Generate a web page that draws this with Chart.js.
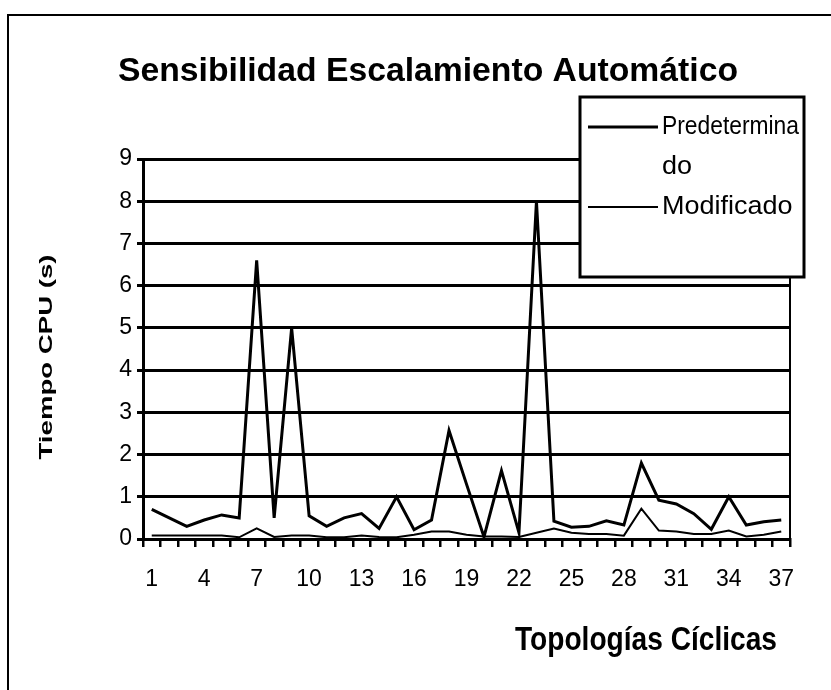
<!DOCTYPE html>
<html lang="es">
<head>
<meta charset="utf-8">
<title>Sensibilidad Escalamiento Automático</title>
<script src="https://cdn.jsdelivr.net/npm/chart.js@4.4.1/dist/chart.umd.min.js"></script>
<style>
  html, body { margin: 0; padding: 0; background: #fff; }
  #grafico { display: block; }
</style>
</head>
<body>
<canvas id="grafico" width="831" height="690"></canvas>
<script>
// --- DATOS ---
const topologias = ["1","2","3","4","5","6","7","8","9","10","11","12","13","14","15","16","17","18","19",
                    "20","21","22","23","24","25","26","27","28","29","30","31","32","33","34","35","36","37"];
const predeterminado = [0.7, 0.5, 0.3, 0.45, 0.57, 0.5, 6.6, 0.5, 5.0, 0.55, 0.3, 0.5, 0.6, 0.25, 1.0, 0.22, 0.45, 2.57, 1.3,
                        0.05, 1.62, 0.15, 8.0, 0.42, 0.28, 0.3, 0.43, 0.33, 1.8, 0.92, 0.83, 0.6, 0.23, 1.0, 0.33, 0.41, 0.45];
const modificado = [0.08, 0.08, 0.08, 0.08, 0.08, 0.04, 0.25, 0.05, 0.08, 0.08, 0.04, 0.04, 0.08, 0.05, 0.04, 0.1, 0.18, 0.18, 0.1,
                    0.06, 0.06, 0.05, 0.15, 0.25, 0.15, 0.12, 0.12, 0.08, 0.72, 0.2, 0.18, 0.12, 0.12, 0.2, 0.06, 0.1, 0.18];
const etiquetasX = ["1","4","7","10","13","16","19","22","25","28","31","34","37"];
const nombresSeries = ["Predeterminado", "Modificado"];

const titulo = "Sensibilidad Escalamiento Automático";
const tituloX = "Topologías Cíclicas";
const tituloY = "Tiempo CPU (s)";

// --- ESTILO ---
const fuente = "'Liberation Sans', Arial, sans-serif";

// texto estirado/comprimido en horizontal hasta el ancho pedido
function textoAjustado(ctx, texto, x, y, ancho, alinear) {
    const medido = ctx.measureText(texto).width;
    const k = ancho / medido;
    ctx.save();
    ctx.translate(x, y);
    ctx.scale(k, 1);
    ctx.textAlign = alinear || 'center';
    ctx.fillText(texto, 0, 0);
    ctx.restore();
}

const textosPlugin = {
    id: 'textos',
    afterDraw(chart) {
        const { ctx, chartArea } = chart;
        ctx.save();
        ctx.fillStyle = '#000';
        ctx.strokeStyle = '#000';

        // marco exterior
        ctx.lineWidth = 2;
        ctx.beginPath();
        ctx.moveTo(8, 690); ctx.lineTo(8, 15); ctx.lineTo(831, 15);
        ctx.stroke();

        // borde derecho del área de trazado
        ctx.beginPath();
        ctx.moveTo(chartArea.right, chartArea.top);
        ctx.lineTo(chartArea.right, chartArea.bottom);
        ctx.stroke();

        // título
        ctx.textBaseline = 'alphabetic';
        ctx.font = "bold 34px " + fuente;
        textoAjustado(ctx, titulo, 428, 81, 620, 'center');

        // título eje X
        ctx.font = "bold 34px " + fuente;
        textoAjustado(ctx, tituloX, 777, 650, 262, 'right');

        // título eje Y
        ctx.save();
        ctx.translate(52, 357);
        ctx.rotate(-Math.PI / 2);
        ctx.font = "bold 19px " + fuente;
        textoAjustado(ctx, tituloY, 0, 0, 205, 'center');
        ctx.restore();

        // leyenda
        const caja = { left: 580, top: 97, right: 804, bottom: 277 };
        ctx.fillStyle = '#fff';
        ctx.fillRect(caja.left, caja.top, caja.right - caja.left, caja.bottom - caja.top);
        ctx.lineWidth = 3;
        ctx.strokeRect(caja.left, caja.top, caja.right - caja.left, caja.bottom - caja.top);
        ctx.fillStyle = '#000';
        ctx.font = "25px " + fuente;
        ctx.textBaseline = 'middle';
        ctx.textAlign = 'left';
        const xTexto = 662;
        const anchoVisible = caja.right - xTexto - 5;
        const corte = 160;
        let yLinea = 127;
        chart.data.datasets.forEach(ds => {
            // muestra de línea
            ctx.lineWidth = ds.borderWidth;
            ctx.beginPath();
            ctx.moveTo(588, yLinea);
            ctx.lineTo(658, yLinea);
            ctx.stroke();
            // cortar la etiqueta por caracteres como hace Excel
            const lineas = [];
            let actual = '';
            for (const c of ds.label) {
                if (ctx.measureText(actual + c).width > corte && actual) {
                    lineas.push(actual);
                    actual = c;
                } else {
                    actual += c;
                }
            }
            lineas.push(actual);
            lineas.forEach(l => {
                const w = Math.min(ctx.measureText(l).width * 1.08, anchoVisible);
                textoAjustado(ctx, l, xTexto, yLinea, w, 'left');
                yLinea += 40;
            });
        });
        ctx.restore();
    }
};

new Chart(document.getElementById('grafico'), {
    type: 'line',
    data: {
        labels: topologias,
        datasets: [
            { label: nombresSeries[0], data: predeterminado, borderColor: '#000', borderWidth: 3, pointRadius: 0, tension: 0, fill: false },
            { label: nombresSeries[1], data: modificado, borderColor: '#000', borderWidth: 2, pointRadius: 0, tension: 0, fill: false }
        ]
    },
    options: {
        responsive: false,
        animation: false,
        devicePixelRatio: 1,
        layout: { padding: { top: 159, right: 41, left: 0, bottom: 0 } },
        plugins: {
            legend: { display: false },
            title: { display: false },
            tooltip: { enabled: false }
        },
        scales: {
            x: {
                offset: true,
                grid: { display: true, drawOnChartArea: false, drawTicks: true, tickLength: 8, offset: true, color: '#000', lineWidth: 2.5 },
                border: { display: true, color: '#000', width: 3 },
                ticks: {
                    autoSkip: false, maxRotation: 0, minRotation: 0, padding: 19, color: '#000',
                    font: { family: fuente, size: 23 },
                    callback(valor) {
                        const t = this.getLabelForValue(valor);
                        return etiquetasX.includes(t) ? t : '';
                    }
                },
                afterFit(escala) { escala.height = 151; }
            },
            y: {
                min: 0, max: 9,
                ticks: { stepSize: 1, padding: 5, color: '#000', font: { family: fuente, size: 23 } },
                grid: { color: '#000', lineWidth: 3, tickLength: 6, drawTicks: true },
                border: { color: '#000', width: 3 },
                afterFit(escala) { escala.width = 143; }
            }
        }
    },
    plugins: [textosPlugin]
});
</script>
</body>
</html>
